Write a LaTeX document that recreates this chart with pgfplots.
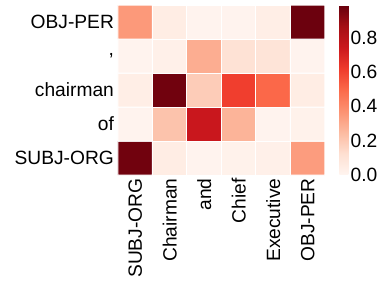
\documentclass[border=0pt]{standalone}
\usepackage{fontspec}
\setmainfont{Liberation Sans}
\usepackage{pgfplots}
\pgfplotsset{compat=1.18}
\pgfplotsset{colormap={Reds}{rgb255=(255,245,240) rgb255=(254,224,210) rgb255=(252,187,161) rgb255=(252,146,114) rgb255=(251,106,74) rgb255=(239,59,44) rgb255=(203,24,29) rgb255=(165,15,21) rgb255=(103,0,13)}}
\begin{document}
\begin{tikzpicture}[x=1bp,y=1bp]
\begin{axis}[
  at={(0,0)}, anchor=south west,
  scale only axis, width=207bp, height=170bp,
  xmin=-0.5, xmax=5.5, ymin=-0.5, ymax=4.5,
  colormap name=Reds,
  point meta min=0, point meta max=0.99,
  xtick={0,...,5}, ytick={0,...,4},
  xticklabels={SUBJ-ORG,Chairman,and,Chief,Executive,OBJ-PER},
  yticklabels={SUBJ-ORG,of,chairman,{,},OBJ-PER},
  xticklabel style={rotate=90, anchor=east},
  yticklabel style={xshift=-0.6bp},
  ticklabel style={font=\fontsize{19.2bp}{22bp}\selectfont},
  axis line style={draw=none}, tick style={draw=none},
  /pgf/number format/assume math mode=true,
  colorbar,
  colorbar style={
    at={(parent axis.north east)}, anchor=north west, xshift=6bp,
    width=9bp, major tick length=0pt,
    ytick={0,0.2,0.4,0.6,0.8},
    yticklabel style={font=\fontsize{19.2bp}{22bp}\selectfont, xshift=-1.4bp, /pgf/number format/.cd, fixed, fixed zerofill, precision=1},
    axis line style={draw=none}, tick style={draw=none},
    /pgf/number format/assume math mode=true,
  },
]
\addplot[matrix plot*, mesh/cols=6, point meta=explicit, draw=white, line width=1bp] table[meta=c] {
x y c
0 0 0.97
1 0 0.05
2 0 0.01
3 0 0.02
4 0 0.03
5 0 0.34
0 1 0.01
1 1 0.22
2 1 0.75
3 1 0.27
4 1 0.01
5 1 0.02
0 2 0.04
1 2 0.97
2 2 0.19
3 2 0.61
4 2 0.50
5 2 0.05
0 3 0.01
1 3 0.03
2 3 0.29
3 3 0.11
4 3 0.10
5 3 0.01
0 4 0.35
1 4 0.05
2 4 0.01
3 4 0.01
4 4 0.04
5 4 0.98
};
\end{axis}
\pgfresetboundingbox
\path[use as bounding box] (-118,-107) rectangle (263,175);
\end{tikzpicture}
\end{document}
